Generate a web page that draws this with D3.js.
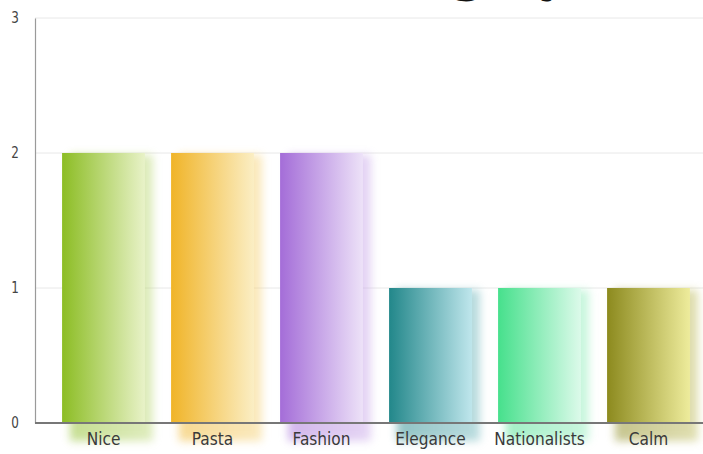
<!DOCTYPE html>
<html>
<head>
<meta charset="utf-8">
<script src="https://cdn.jsdelivr.net/npm/d3@7"></script>
<style>
  html, body { margin: 0; padding: 0; background: #fff; overflow: hidden; }
  svg { display: block; }
</style>
</head>
<body>
<svg id="chart" width="703" height="454"></svg>
<script>
// Category counts
const categories = ["Nice", "Pasta", "Fashion", "Elegance", "Nationalists", "Calm"];
const counts = [2, 2, 2, 1, 1, 1];
const yTicks = [0, 1, 2, 3];
// Gradient stops per bar: saturated on the left, pale on the right
const darkColors = ["#8cbd24", "#f0b428", "#a46dd8", "#22878a", "#46e08c", "#8c8a1e"];
const lightColors = ["#e8f2c8", "#fbeec4", "#ede2f8", "#bfe6ec", "#dcfaea", "#eeec9c"];
const titleText = "Italian Category";

const W = 703, H = 454;
const svg = d3.select("#chart");
const defs = svg.append("defs");

const x = d3.scaleBand().domain(categories).range([49, 703]).paddingInner(0.24).paddingOuter(0.12);
const y = d3.scaleLinear().domain([0, 3]).range([423, 18]);

// Soft shadow filter
defs.append("filter").attr("id", "soft").attr("x", "-50%").attr("y", "-50%").attr("width", "200%").attr("height", "200%")
  .append("feGaussianBlur").attr("stdDeviation", 4.5);

categories.forEach((c, i) => {
  const g = defs.append("linearGradient").attr("id", "grad" + i)
    .attr("x1", "0%").attr("y1", "0%").attr("x2", "100%").attr("y2", "0%");
  g.append("stop").attr("offset", "0%").attr("stop-color", darkColors[i]);
  g.append("stop").attr("offset", "100%").attr("stop-color", lightColors[i]);
  const s = defs.append("linearGradient").attr("id", "shadow" + i)
    .attr("x1", "0%").attr("y1", "0%").attr("x2", "100%").attr("y2", "0%");
  s.append("stop").attr("offset", "0%").attr("stop-color", darkColors[i]);
  s.append("stop").attr("offset", "100%").attr("stop-color", d3.interpolateRgb(darkColors[i], lightColors[i])(0.55));
});

// Title, set high so only its descenders reach into view
svg.append("text")
  .attr("x", 566).attr("y", -9)
  .attr("text-anchor", "end")
  .style("font-family", "'DejaVu Serif', serif")
  .style("font-weight", "bold")
  .style("font-size", "46px")
  .attr("fill", "#111")
  .text(titleText);

// Gridlines
svg.append("g").selectAll("line").data(yTicks.filter(t => t > 0)).join("line")
  .attr("x1", 35).attr("x2", W)
  .attr("y1", d => y(d)).attr("y2", d => y(d))
  .attr("stroke", "#e8e8e8").attr("stroke-width", 1);

// Bar shadows
svg.append("g").selectAll("rect").data(counts).join("rect")
  .attr("x", (d, i) => x(categories[i]) + 8)
  .attr("y", d => y(d) + 2)
  .attr("width", x.bandwidth())
  .attr("height", d => y(0) - y(d) + 16)
  .attr("fill", (d, i) => `url(#shadow${i})`)
  .attr("opacity", 0.5)
  .attr("filter", "url(#soft)");

// Bars
svg.append("g").selectAll("rect").data(counts).join("rect")
  .attr("x", (d, i) => x(categories[i]))
  .attr("y", d => y(d))
  .attr("width", x.bandwidth())
  .attr("height", d => y(0) - y(d))
  .attr("fill", (d, i) => `url(#grad${i})`);

// Y axis
const yAxis = svg.append("g").attr("transform", "translate(35,0)")
  .call(d3.axisLeft(y).tickValues(yTicks).tickFormat(d3.format("d")).tickSize(0).tickPadding(16));
yAxis.select(".domain").attr("stroke", "#9a9a9a").attr("stroke-width", 1.2);
yAxis.selectAll("text")
  .style("font-family", "'DejaVu Sans', sans-serif")
  .style("font-size", "15px").attr("fill", "#444")
  .attr("transform", "translate(-17,0) scale(0.8,1) translate(17,0)");

// X axis
const xAxis = svg.append("g").attr("transform", `translate(0,${y(0)})`)
  .call(d3.axisBottom(x).tickSize(0).tickPadding(10));
xAxis.select(".domain").attr("d", `M35,0H${W}`).attr("stroke", "#777").attr("stroke-width", 2);
xAxis.selectAll("text")
  .style("font-family", "'DejaVu Sans', sans-serif")
  .style("font-size", "17.5px").attr("fill", "#3a3a3a")
  .attr("transform", "scale(0.88,1)");
</script>
</body>
</html>
